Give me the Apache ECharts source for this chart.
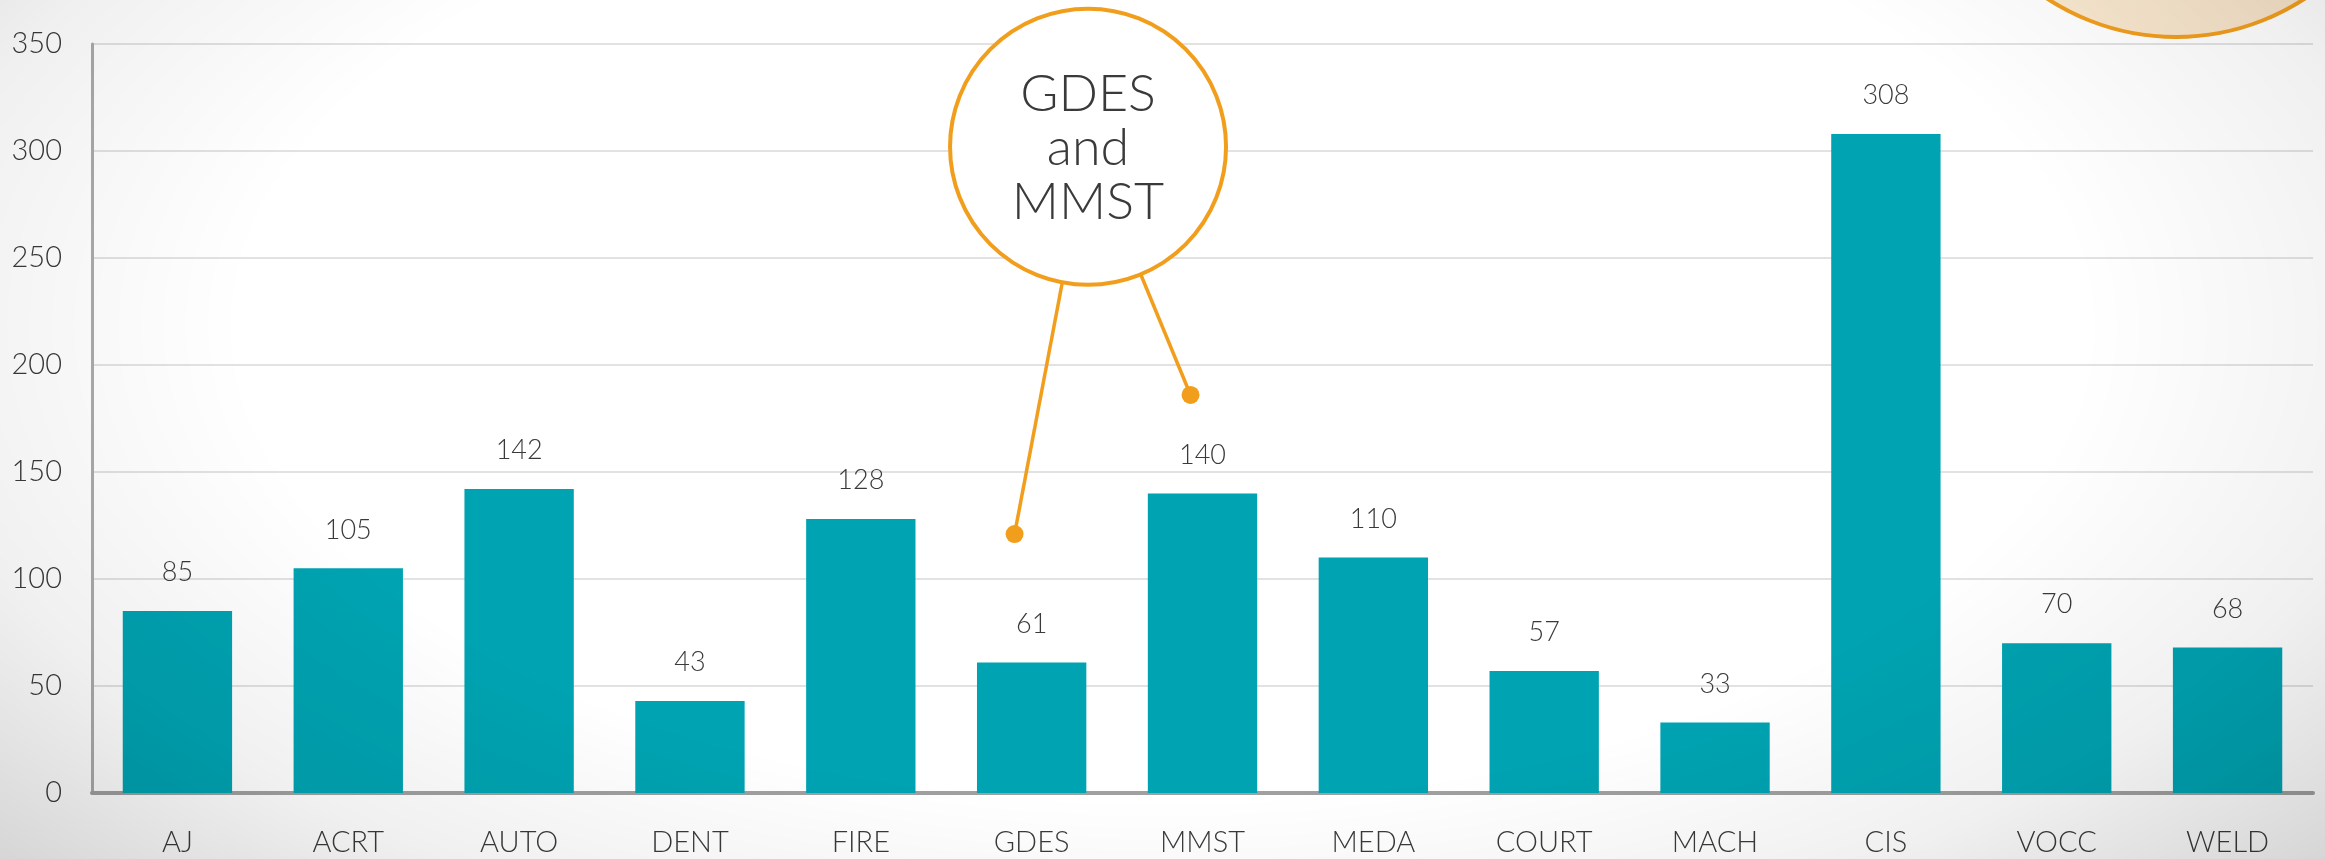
<!DOCTYPE html>
<html>
<head>
<meta charset="utf-8">
<script src="https://cdn.jsdelivr.net/npm/echarts@6/dist/echarts.min.js"></script>
<style>
  html, body { margin: 0; padding: 0; }
  body { width: 2325px; height: 859px; overflow: hidden; background: #ffffff; position: relative; }
  #chart { width: 2325px; height: 859px; }
  #vignette {
    position: absolute; left: 0; top: 0; width: 2325px; height: 859px; pointer-events: none;
    background: radial-gradient(ellipse 72% 100% at 50% 38%, rgba(0,0,0,0) 0%, rgba(0,0,0,0) 55%, rgba(0,0,0,0.06) 75%, rgba(0,0,0,0.2) 100%);
  }
</style>
</head>
<body>
<div id="chart"></div>
<div id="vignette"></div>
<script>
// ---- data ----
const categories = ['AJ', 'ACRT', 'AUTO', 'DENT', 'FIRE', 'GDES', 'MMST', 'MEDA', 'COURT', 'MACH', 'CIS', 'VOCC', 'WELD'];
const values = [85, 105, 142, 43, 128, 61, 140, 110, 57, 33, 308, 70, 68];
const yMin = 0, yMax = 350, yInterval = 50;
// callout annotation, in (category index, value) units: [centerX, centerY, dot1X, dot1Y, dot2X, dot2Y]
const calloutText = 'GDES\nand\nMMST';
const calloutAnchors = [[5.33, 302, 4.90, 121, 5.93, 186]];

const FONT = "Lato, 'Open Sans', sans-serif";
const TEXT = '#3a3a3a';
const ORANGE = '#F29E1D';

const chart = echarts.init(document.getElementById('chart'), null, { renderer: 'canvas' });

chart.setOption({
  backgroundColor: 'transparent',
  animation: false,
  grid: { left: 92, right: 12, top: 44, bottom: 66, containLabel: false },
  graphic: [{
    type: 'circle', z: 1,
    shape: { cx: 2176, cy: -198, r: 235 },
    style: {
      fill: new echarts.graphic.LinearGradient(0, 0, 1, 0, [
        { offset: 0, color: '#fcedd4' }, { offset: 1, color: '#f3dfc4' }
      ]),
      stroke: ORANGE, lineWidth: 4
    }
  }],
  xAxis: [{
    type: 'category',
    data: categories,
    axisLine: { lineStyle: { color: '#a0a0a0', width: 4 } },
    axisTick: { show: false },
    axisLabel: { color: TEXT, fontFamily: FONT, fontSize: 29, fontWeight: 300, margin: 35 }
  }, {
    type: 'value', min: -0.5, max: 12.5, show: false
  }],
  yAxis: {
    type: 'value', min: yMin, max: yMax, interval: yInterval,
    axisLine: { show: true, onZero: false, lineStyle: { color: '#ababab', width: 3 } },
    axisTick: { show: false },
    splitLine: { lineStyle: { color: '#e2e2e2', width: 2 } },
    axisLabel: { color: TEXT, fontFamily: FONT, fontSize: 29, fontWeight: 300, margin: 30 }
  },
  series: [{
    type: 'bar',
    data: values,
    barWidth: '64%',
    itemStyle: { color: '#00A3B2' },
    label: {
      show: true, position: 'top', distance: 25,
      color: TEXT, fontFamily: FONT, fontSize: 27, fontWeight: 300
    }
  }, {
    type: 'custom',
    xAxisIndex: 1,
    clip: false,
    z: 10,
    data: calloutAnchors,
    renderItem: function (params, api) {
      const c = api.coord([api.value(0), api.value(1)]);
      const p1 = api.coord([api.value(2), api.value(3)]);
      const p2 = api.coord([api.value(4), api.value(5)]);
      const lineStyle = { stroke: ORANGE, lineWidth: 3.5 };
      return {
        type: 'group',
        children: [
          { type: 'line', shape: { x1: c[0], y1: c[1], x2: p1[0], y2: p1[1] }, style: lineStyle },
          { type: 'line', shape: { x1: c[0], y1: c[1], x2: p2[0], y2: p2[1] }, style: lineStyle },
          { type: 'circle', shape: { cx: p1[0], cy: p1[1], r: 9 }, style: { fill: ORANGE } },
          { type: 'circle', shape: { cx: p2[0], cy: p2[1], r: 9 }, style: { fill: ORANGE } },
          { type: 'circle', shape: { cx: c[0], cy: c[1], r: 138 }, style: { fill: '#ffffff', stroke: ORANGE, lineWidth: 4 } },
          { type: 'text', x: c[0], y: c[1] + 2, style: {
              text: calloutText, fill: TEXT, font: '300 52px ' + FONT,
              lineHeight: 54, align: 'center', verticalAlign: 'middle'
          } }
        ]
      };
    }
  }]
});
</script>
</body>
</html>
